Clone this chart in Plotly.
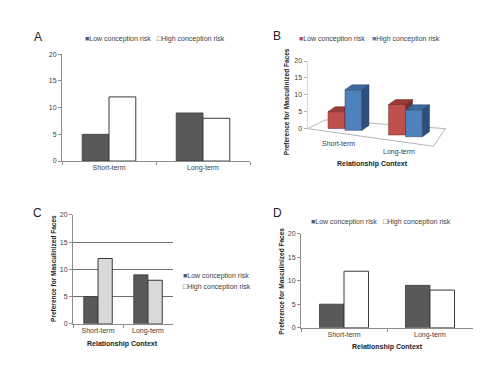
import plotly.graph_objects as go

# ---------------- data ----------------
categories = ["Short-term", "Long-term"]
low_risk = [5, 9]
high_risk = [12, 8]
series_names = ["Low conception risk", "High conception risk"]
y_ticks = [0, 5, 10, 15, 20]
panel_labels = ["A", "B", "C", "D"]
y_title = "Preference for Masculinized Faces"
x_title = "Relationship Context"

# ---------------- helpers ----------------
# the page body has an 8px margin, so the figure is offset by 8px in the window
OFF = 8
W, H = 484, 359
def fx(px):
    return (px - OFF) / W
def fy(py):
    return 1 - (py - OFF) / H

FONT = "Liberation Sans Narrow, Liberation Sans, Arial, sans-serif"
TXT = "#404040"
AX = "#8c8c8c"
DARK = "#595959"
EDGE = "#3a3a3a"

fig = go.Figure()

# ---------------- Panel A (x / y) ----------------
fig.add_bar(x=categories, y=low_risk, name=series_names[0], xaxis="x", yaxis="y",
            marker=dict(color=DARK, line=dict(color=EDGE, width=0.8)), showlegend=False)
fig.add_bar(x=categories, y=high_risk, name=series_names[1], xaxis="x", yaxis="y",
            marker=dict(color="white", line=dict(color=EDGE, width=1)), showlegend=False)

# ---------------- Panel C (x3 / y3) ----------------
fig.add_bar(x=categories, y=low_risk, name=series_names[0], xaxis="x3", yaxis="y3",
            marker=dict(color=DARK, line=dict(color=EDGE, width=0.8)), showlegend=False)
fig.add_bar(x=categories, y=high_risk, name=series_names[1], xaxis="x3", yaxis="y3",
            marker=dict(color="#d9d9d9", line=dict(color=EDGE, width=1)), showlegend=False)

# ---------------- Panel D (x4 / y4) ----------------
fig.add_bar(x=categories, y=low_risk, name=series_names[0], xaxis="x4", yaxis="y4",
            marker=dict(color=DARK, line=dict(color=EDGE, width=0.8)), showlegend=False)
fig.add_bar(x=categories, y=high_risk, name=series_names[1], xaxis="x4", yaxis="y4",
            marker=dict(color="white", line=dict(color=EDGE, width=1)), showlegend=False)

# ---------------- Panel B (pseudo-3D, x2 / y2) ----------------
B_X0, B_X1 = -0.62, 1.75          # category units
B_Y0, B_Y1 = -9.57, 22.32         # value units
PX_PER_CAT = 60.5
bar_w = 0.28
depth_dx, depth_dy = 0.116, 1.45
def floor_base(xc):
    return -1.9 * (xc + 0.12)
def front_edge(xc):
    return -(xc - B_X0) * 2.5

# floor outline
fig.add_scatter(x=[B_X0, 1.46, 1.66, -0.32, B_X0], y=[0, front_edge(1.46), 0, 2.6, 0],
                mode="lines", line=dict(color="#b5b5b5", width=1),
                xaxis="x2", yaxis="y2", showlegend=False, hoverinfo="skip")
# y axis line
fig.add_scatter(x=[B_X0, B_X0], y=[y_ticks[0], y_ticks[-1]], mode="lines",
                line=dict(color="#b5b5b5", width=1), xaxis="x2", yaxis="y2",
                showlegend=False, hoverinfo="skip")

face_cols = {
    "low": ("#c0504d", "#9c3a37", "#7f2e2c"),
    "high": ("#4f81bd", "#3d6aa3", "#2c507f"),
}
for i, cat in enumerate(categories):
    for key, vals, off in (("low", low_risk, -1), ("high", high_risk, 0)):
        v = vals[i]
        x0 = i + off * bar_w
        x1 = x0 + bar_w
        b = floor_base((x0 + x1) / 2)
        t = b + v
        front, top, side = face_cols[key]
        polys = [
            ([x0, x1, x1, x0, x0], [b, b, t, t, b], front),
            ([x0, x1, x1 + depth_dx, x0 + depth_dx, x0], [t, t, t + depth_dy, t + depth_dy, t], top),
            ([x1, x1 + depth_dx, x1 + depth_dx, x1, x1], [b, b + depth_dy, t + depth_dy, t, b], side),
        ]
        for px_, py_, col in polys:
            fig.add_scatter(x=px_, y=py_, fill="toself", fillcolor=col, mode="lines",
                            line=dict(color="#2e3f55" if key == "high" else "#6b2826", width=0.5),
                            xaxis="x2", yaxis="y2", showlegend=False,
                            name=f"{series_names[0 if key=='low' else 1]} – {cat}")

# ---------------- axes ----------------
def yax(dom_top, dom_bot, grid=False):
    return dict(domain=[fy(dom_bot), fy(dom_top)], range=[0, 20], tickvals=y_ticks,
                showgrid=grid, gridcolor="#6e6e6e", gridwidth=1, zeroline=False,
                showline=True, linecolor=AX, linewidth=1, ticks="outside", ticklen=3,
                tickcolor=AX, tickfont=dict(size=7, color=TXT, family=FONT), fixedrange=True)
def xax(dom_l, dom_r, anchor):
    return dict(domain=[fx(dom_l), fx(dom_r)], anchor=anchor, showline=True, linecolor=AX,
                linewidth=1, ticks="outside", tickson="boundaries", ticklen=3, tickcolor=AX,
                tickfont=dict(size=7, color=TXT, family=FONT), showgrid=False, fixedrange=True)

layout = dict(
    width=W, height=H, margin=dict(l=0, r=0, t=0, b=0),
    paper_bgcolor="white", plot_bgcolor="rgba(0,0,0,0)",
    barmode="group", bargap=0.43, bargroupgap=0,
    font=dict(family=FONT, color=TXT, size=7),
    showlegend=False,
    xaxis=xax(62, 250, "y"),
    yaxis=dict(yax(51, 160), anchor="x"),
    xaxis3=xax(73, 173, "y3"),
    yaxis3=dict(yax(215, 326, grid=True), anchor="x3"),
    xaxis4=xax(301, 473, "y4"),
    yaxis4=dict(yax(234, 330), anchor="x4"),
    xaxis2=dict(domain=[fx(307.5), fx(307.5 + (B_X1 - B_X0) * PX_PER_CAT)], range=[B_X0, B_X1],
                visible=False, anchor="y2", fixedrange=True),
    yaxis2=dict(domain=[fy(160), fy(50)], range=[B_Y0, B_Y1], anchor="x2", tickvals=y_ticks,
                showgrid=False, zeroline=False, showline=False, ticks="outside", ticklen=3,
                tickcolor="#b5b5b5", tickfont=dict(size=7, color=TXT, family=FONT), fixedrange=True),
)
fig.update_layout(**layout)

ann = []
# panel letters
for lab, (px, py) in zip(panel_labels, [(38, 33), (277, 32), (37, 213), (277, 213)]):
    ann.append(dict(text=lab, x=fx(px), y=fy(py), xref="paper", yref="paper",
                    xanchor="center", yanchor="middle",
                    showarrow=False, font=dict(size=12, color="#222", family="Liberation Sans")))

def legend_item(px, py, sym, col, text):
    return dict(text=f"<span style='color:{col}'>{sym}</span>{text}", x=fx(px), y=fy(py),
                xref="paper", yref="paper", xanchor="left", yanchor="middle", showarrow=False,
                font=dict(size=7, color=TXT, family=FONT))

# legends
ann += [
    legend_item(83, 36, "■", DARK, series_names[0]),
    legend_item(155, 36, "□", EDGE, series_names[1]),
    legend_item(297, 36, "■", "#c0504d", series_names[0]),
    legend_item(370, 36, "■", "#4f81bd", series_names[1]),
    legend_item(181, 277, "■", DARK, series_names[0]),
    legend_item(181, 288, "□", EDGE, series_names[1]),
    legend_item(309, 222, "■", DARK, series_names[0]),
    legend_item(381, 222, "□", EDGE, series_names[1]),
]

def ytitle(px, py):
    return dict(text=f"<b>{y_title}</b>", x=fx(px), y=fy(py), xref="paper", yref="paper",
                xanchor="center", yanchor="middle",
                textangle=-90, showarrow=False, font=dict(size=6.5, color="#222", family=FONT))
def xtitle(px, py):
    return dict(text=f"<b>{x_title}</b>", x=fx(px), y=fy(py), xref="paper", yref="paper",
                xanchor="center", yanchor="middle",
                showarrow=False, font=dict(size=7, color="#222", family=FONT))
ann += [ytitle(286, 100), ytitle(54, 270), ytitle(282, 283),
        xtitle(372, 163), xtitle(122, 347), xtitle(387, 350)]

# panel B category labels
for i, cat in enumerate(categories):
    ann.append(dict(text=cat, x=i - 0.1, y=front_edge(i) - 2.9, xref="x2", yref="y2",
                    xanchor="center", yanchor="middle",
                    showarrow=False, font=dict(size=7, color=TXT, family=FONT)))

fig.update_layout(annotations=ann)
fig.write_html("out.html", config={"displayModeBar": False})
